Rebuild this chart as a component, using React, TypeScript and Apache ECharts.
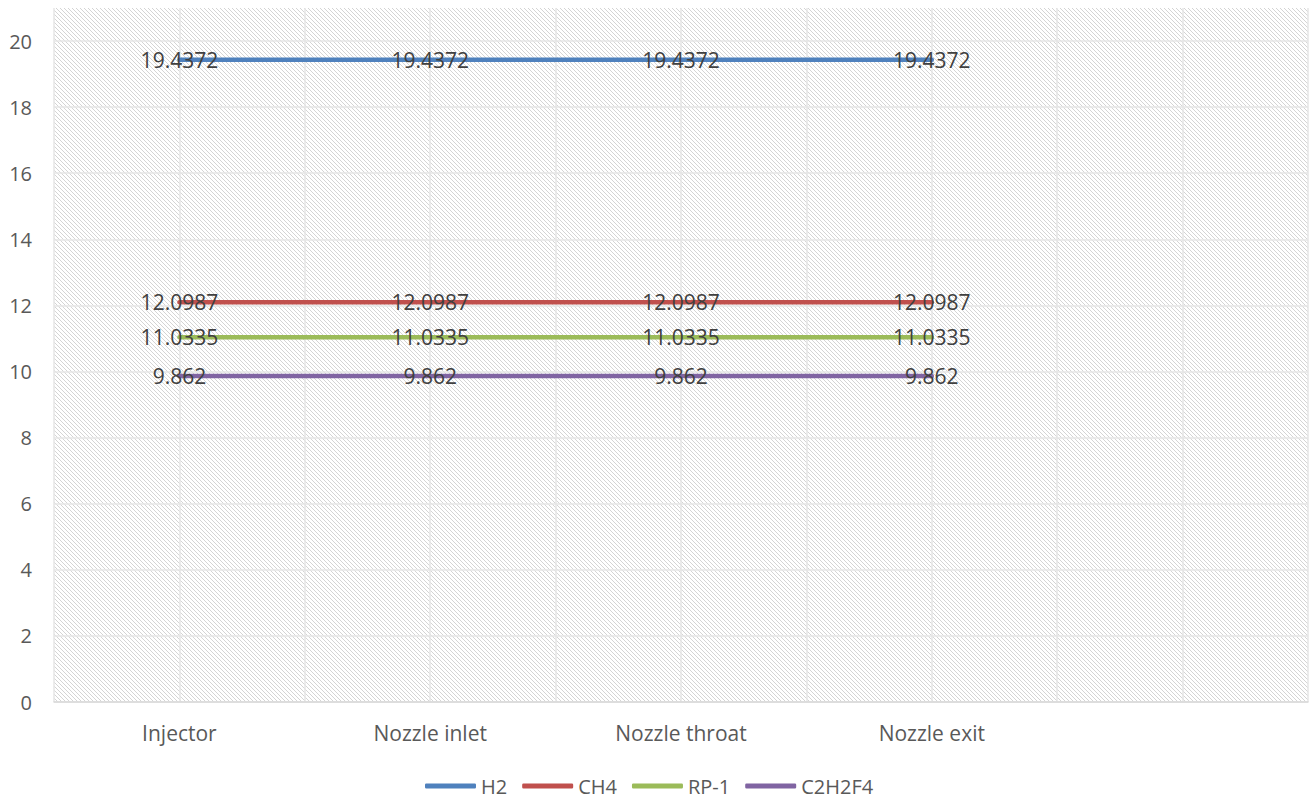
import React, { useEffect, useRef } from "react";
import * as echarts from "echarts";

const categories = ["Injector", "Nozzle inlet", "Nozzle throat", "Nozzle exit"];
const seriesNames = ["H2", "CH4", "RP-1", "C2H2F4"];
const h2Values = [19.4372, 19.4372, 19.4372, 19.4372];
const ch4Values = [12.0987, 12.0987, 12.0987, 12.0987];
const rp1Values = [11.0335, 11.0335, 11.0335, 11.0335];
const c2h2f4Values = [9.862, 9.862, 9.862, 9.862];
const colors = ["#4F81BD", "#C0504D", "#9BBB59", "#8064A2"];

const FONT = "Open Sans";

function makeHatch(): HTMLCanvasElement {
  const c = document.createElement("canvas");
  c.width = 4;
  c.height = 4;
  const ctx = c.getContext("2d")!;
  ctx.fillStyle = "#ffffff";
  ctx.fillRect(0, 0, 4, 4);
  ctx.fillStyle = "#d4d4d4";
  for (let i = 0; i < 4; i++) ctx.fillRect(i, i, 1, 1);
  return c;
}

export default function App() {
  const ref = useRef<HTMLDivElement>(null);
  useEffect(() => {
    if (!ref.current) return;
    const chart = echarts.init(ref.current, undefined, { renderer: "svg" });
    const allValues = [h2Values, ch4Values, rp1Values, c2h2f4Values];
    const labelMap: Record<string, string> = {};
    categories.forEach((c, i) => (labelMap[String(i + 0.5)] = c));
    chart.setOption({
      animation: false,
      backgroundColor: "#ffffff",
      grid: {
        left: 54,
        right: -5,
        top: 8,
        bottom: 97,
        show: true,
        borderWidth: 0,
        backgroundColor: { image: makeHatch(), repeat: "repeat" } as any,
      },
      xAxis: {
        type: "value",
        min: 0,
        max: 5,
        interval: 0.5,
        axisLine: { show: true, lineStyle: { color: "#D9D9D9", width: 1.5 } },
        axisTick: { show: false },
        splitLine: { show: true, lineStyle: { color: "#E6E6E6", width: 1.5 } },
        axisLabel: {
          color: "#595959",
          fontFamily: FONT,
          fontSize: 21,
          margin: 20,
          formatter: (v: number) => labelMap[String(v)] ?? "",
        },
      },
      yAxis: {
        type: "value",
        min: 0,
        max: 21,
        interval: 2,
        axisLine: { show: false },
        axisTick: { show: false },
        splitLine: { show: true, showMaxLine: false, lineStyle: { color: "#E6E6E6", width: 1.5 } },
        axisLabel: {
          color: "#595959",
          fontFamily: FONT,
          fontSize: 20,
          margin: 22,
          showMaxLabel: false,
        },
      },
      legend: {
        left: 420,
        top: 771,
        itemWidth: 51,
        itemHeight: 5,
        itemGap: 15,
        icon: "roundRect",
        textStyle: { color: "#595959", fontFamily: FONT, fontSize: 20 },
        data: seriesNames,
      },
      series: seriesNames.map((name, s) => ({
        name,
        type: "line",
        data: allValues[s].map((v, i) => [i + 0.5, v]),
        symbol: "circle",
        symbolSize: 0,
        showSymbol: true,
        color: colors[s],
        lineStyle: { color: colors[s], width: 4.5, cap: "round" },
        itemStyle: { color: colors[s] },
        label: {
          show: true,
          position: "inside",
          color: "#404040",
          fontFamily: FONT,
          fontSize: 21,
          formatter: (p: any) => String(p.value[1]),
        },
      })),
    });
    return () => chart.dispose();
  }, []);
  return (
    <div
      ref={ref}
      style={{ position: "fixed", left: 0, top: 0, width: 1311, height: 799 }}
    />
  );
}
